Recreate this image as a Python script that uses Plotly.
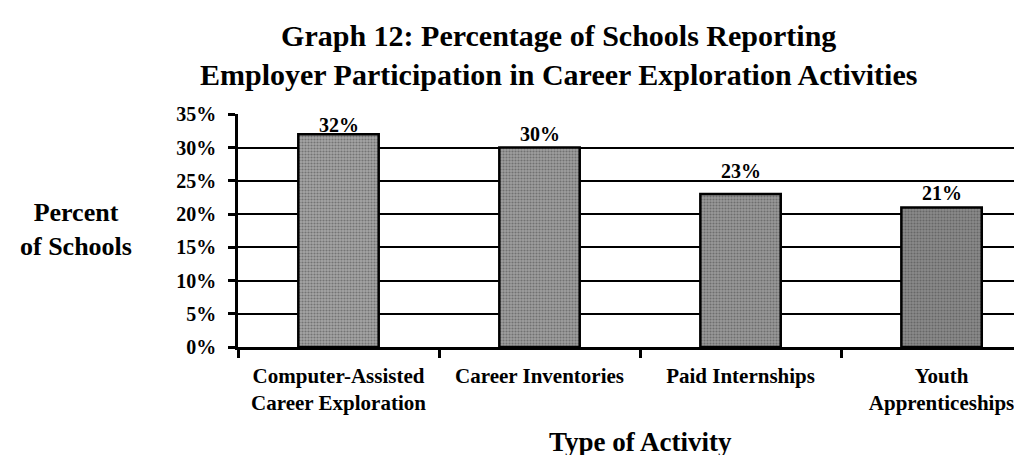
import plotly.graph_objects as go

# Graph 12 data (percent of schools)
activities = [
    "Computer-Assisted<br>Career Exploration",
    "Career Inventories",
    "Paid Internships",
    "Youth<br>Apprenticeships",
]
percent = [32, 30, 23, 21]
value_labels = ["32%", "30%", "23%", "21%"]
y_ticks = [0, 5, 10, 15, 20, 25, 30, 35]

# styling only
bar_colors = ["#a4a4a4", "#9e9e9e", "#999999", "#8a8a8a"]
label_shift = [9, 14, 23, 14]
FONT = "Liberation Serif"

fig = go.Figure()
fig.add_trace(go.Bar(
    x=activities,
    y=percent,
    marker=dict(
        color=bar_colors,
        line=dict(color="black", width=2.5),
        pattern=dict(shape=".", fgcolor="#4a4a4a", size=3, solidity=0.4, fillmode="overlay"),
    ),
    width=0.4,
    hoverinfo="skip",
))

for cat, val, txt, dy in zip(activities, percent, value_labels, label_shift):
    fig.add_annotation(
        x=cat, y=val, text=txt, showarrow=False,
        yanchor="middle", yshift=dy,
        font=dict(family=FONT, size=20, color="black", weight="bold"),
    )

# title, axis titles (positions in pixels converted to plot-area paper coords)
fig.add_annotation(
    x=(550 - 230) / 792, y=(339 - 47) / 233, xref="paper", yref="paper",
    text="Graph 12: Percentage of Schools Reporting<br>Employer Participation in Career Exploration Activities",
    showarrow=False, xanchor="center", yanchor="middle",
    font=dict(family=FONT, size=30, color="black", weight="bold"),
)
fig.add_annotation(
    x=(68 - 230) / 792, y=(339 - 221) / 233, xref="paper", yref="paper",
    text="Percent<br>of Schools", showarrow=False,
    xanchor="center", yanchor="middle",
    font=dict(family=FONT, size=26, color="black", weight="bold"),
)
fig.add_annotation(
    x=(632 - 230) / 792, y=-(434 - 339) / 233, xref="paper", yref="paper",
    text="Type of Activity", showarrow=False,
    xanchor="center", yanchor="middle",
    font=dict(family=FONT, size=27, color="black", weight="bold"),
)

fig.update_layout(
    width=1022, height=455,
    margin=dict(l=230, r=0, t=106, b=116),
    plot_bgcolor="white", paper_bgcolor="white",
    showlegend=False,
    xaxis=dict(
        type="category",
        range=[-0.5, 3.44],
        showline=True, linecolor="black", linewidth=2.5,
        ticks="outside", tickson="boundaries", ticklen=8, tickwidth=2.5, tickcolor="black",
        ticklabelstandoff=8,
        tickfont=dict(family=FONT, size=21, color="black", weight="bold"),
        showgrid=False,
    ),
    yaxis=dict(
        range=[0, 35.05],
        tickvals=y_ticks, ticktext=[f"{t}%" for t in y_ticks],
        showline=True, linecolor="black", linewidth=2.5,
        ticks="outside", ticklen=7, tickwidth=2.5, tickcolor="black",
        ticklabelstandoff=8,
        tickfont=dict(family=FONT, size=20, color="black", weight="bold"),
        showgrid=True, gridcolor="black", gridwidth=2.2,
        zeroline=False,
    ),
)

fig.write_html("out.html")
